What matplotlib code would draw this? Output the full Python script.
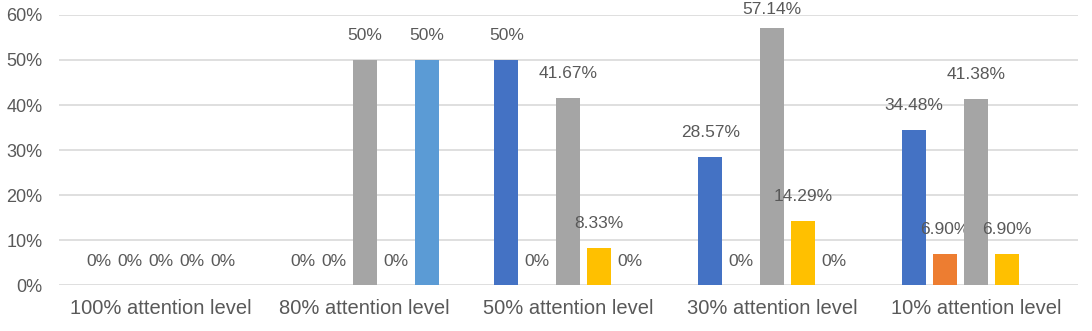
import matplotlib.pyplot as plt
import numpy as np

plt.rcParams['font.family'] = ['Liberation Sans', 'DejaVu Sans']

categories = ['100% attention level', '80% attention level', '50% attention level',
              '30% attention level', '10% attention level']
series_1 = [0, 0, 50, 28.57, 34.48]
series_2 = [0, 0, 0, 0, 6.90]
series_3 = [0, 50, 41.67, 57.14, 41.38]
series_4 = [0, 0, 8.33, 14.29, 6.90]
series_5 = [0, 50, 0, 0, None]
yticks = [0, 10, 20, 30, 40, 50, 60]

all_series = [series_1, series_2, series_3, series_4, series_5]
colors = ['#4472C4', '#ED7D31', '#A5A5A5', '#FFC000', '#5B9BD5']
txt = '#595959'

fig, ax = plt.subplots(figsize=(10.92, 3.31), dpi=100)
fig.subplots_adjust(left=0.054, right=0.987, top=0.955, bottom=0.138)

x = np.arange(len(categories))
slot = 0.152
width = 0.118
for j, (vals, c) in enumerate(zip(all_series, colors)):
    for i, v in enumerate(vals):
        if v is None:
            continue
        xi = x[i] + (j - 2) * slot
        ax.bar(xi, v, width=width, color=c, zorder=3)
        lab = f'{v:.2f}%' if v != int(v) else f'{int(v)}%'
        # keep labels inside the figure near the top
        off = 13 if v > 55 else 17.5
        ax.annotate(lab, (xi, v), xytext=(0, off), textcoords='offset points',
                    ha='center', va='center', fontsize=12.5, color=txt)

ax.set_xlim(-0.5, len(categories) - 0.5)
ax.set_ylim(0, 60)
ax.set_yticks(yticks)
ax.set_yticklabels([f'{t}%' for t in yticks])
ax.set_xticks(x)
ax.set_xticklabels(categories)
ax.grid(axis='y', color='#D9D9D9', linewidth=1.2, zorder=0)
for s in ax.spines.values():
    s.set_visible(False)
ax.tick_params(axis='both', length=0, colors=txt)
ax.tick_params(axis='y', pad=12, labelsize=13)
ax.tick_params(axis='x', pad=10, labelsize=14.5)

plt.savefig('out.png')
